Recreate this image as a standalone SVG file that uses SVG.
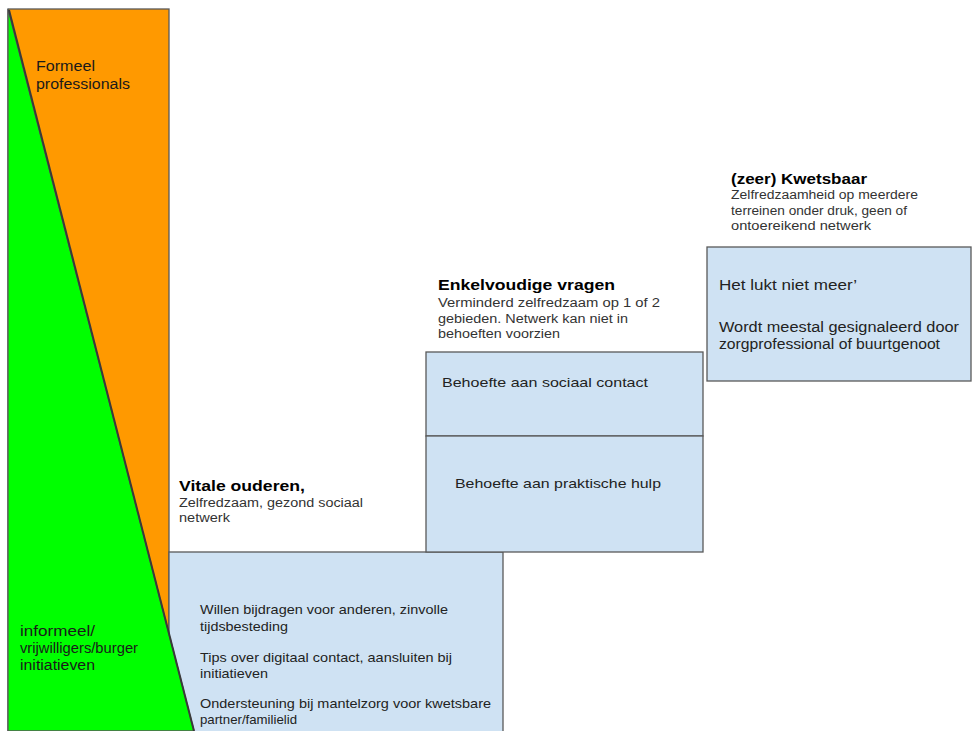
<svg xmlns="http://www.w3.org/2000/svg" width="972" height="731" viewBox="0 0 972 731">
<style>
text{font-family:"Liberation Sans",Arial,sans-serif;fill:#222}
.t{font-size:15px;font-weight:bold;fill:#000}
.s{font-size:12px;fill:#333}
.b{font-size:13.5px;fill:#222}
.k{font-size:14px;fill:#222}
.side{font-size:14px;fill:#1a1a1a}
.box{fill:#cfe2f3;stroke:#595959;stroke-width:1.3}
</style>
<rect width="972" height="731" fill="#fff"/>
<g id="formeel">
<rect x="8" y="9" width="161" height="730" fill="#ff9900" stroke="#595959" stroke-width="1.3"/>
<text class="side" x="36" y="71" textLength="59" lengthAdjust="spacingAndGlyphs">Formeel</text>
<text class="side" x="36" y="89" textLength="94" lengthAdjust="spacingAndGlyphs">professionals</text>
</g>
<g id="vitale">
<rect class="box" x="169" y="552" width="334" height="190"/>
<text class="b" x="200" y="614" textLength="248" lengthAdjust="spacingAndGlyphs">Willen bijdragen voor anderen, zinvolle</text>
<text class="b" x="200" y="631" textLength="88" lengthAdjust="spacingAndGlyphs">tijdsbesteding</text>
<text class="b" x="200" y="662" textLength="252" lengthAdjust="spacingAndGlyphs">Tips over digitaal contact, aansluiten bij</text>
<text class="b" x="200" y="678" textLength="68" lengthAdjust="spacingAndGlyphs">initiatieven</text>
<text class="b" x="200" y="708" textLength="291" lengthAdjust="spacingAndGlyphs">Ondersteuning bij mantelzorg voor kwetsbare</text>
<text class="b" x="200" y="724" textLength="97" lengthAdjust="spacingAndGlyphs">partner/familielid</text>
</g>
<g id="informeel">
<polygon points="8,9 194,731 8,731" fill="#00ff00" stroke="#595959" stroke-width="1.3"/>
<line x1="9" y1="10" x2="194" y2="731" stroke="#3a3a3a" stroke-width="2"/>
<text class="side" x="20" y="636" textLength="75" lengthAdjust="spacingAndGlyphs">informeel/</text>
<text class="side" x="20" y="653" textLength="118" lengthAdjust="spacingAndGlyphs">vrijwilligers/burger</text>
<text class="side" x="20" y="670" textLength="75" lengthAdjust="spacingAndGlyphs">initiatieven</text>
</g>
<g id="vitale-header">
<text class="t" x="179" y="491" textLength="126" lengthAdjust="spacingAndGlyphs">Vitale ouderen,</text>
<text class="s" x="179" y="507" textLength="184" lengthAdjust="spacingAndGlyphs">Zelfredzaam, gezond sociaal</text>
<text class="s" x="179" y="522" textLength="51" lengthAdjust="spacingAndGlyphs">netwerk</text>
</g>
<g id="enkelvoudig">
<text class="t" x="438" y="290" textLength="177" lengthAdjust="spacingAndGlyphs">Enkelvoudige vragen</text>
<text class="s" x="438" y="307" textLength="222" lengthAdjust="spacingAndGlyphs">Verminderd zelfredzaam op 1 of 2</text>
<text class="s" x="438" y="323" textLength="190" lengthAdjust="spacingAndGlyphs">gebieden. Netwerk kan niet in</text>
<text class="s" x="438" y="338" textLength="122" lengthAdjust="spacingAndGlyphs">behoeften voorzien</text>
</g>
<g id="sociaal">
<rect class="box" x="426" y="352" width="277" height="84"/>
<text class="b" x="442" y="387" textLength="206" lengthAdjust="spacingAndGlyphs">Behoefte aan sociaal contact</text>
</g>
<g id="praktisch">
<rect class="box" x="426" y="436" width="277" height="116"/>
<text class="b" x="455" y="488" textLength="206" lengthAdjust="spacingAndGlyphs">Behoefte aan praktische hulp</text>
</g>
<g id="kwetsbaar">
<text class="t" x="731" y="184" textLength="136" lengthAdjust="spacingAndGlyphs">(zeer) Kwetsbaar</text>
<text class="s" x="731" y="199" textLength="187" lengthAdjust="spacingAndGlyphs">Zelfredzaamheid  op meerdere</text>
<text class="s" x="731" y="215" textLength="176" lengthAdjust="spacingAndGlyphs">terreinen onder druk, geen of</text>
<text class="s" x="731" y="230" textLength="140" lengthAdjust="spacingAndGlyphs">ontoereikend netwerk</text>
<rect class="box" x="707" y="247" width="264" height="134"/>
<text class="k" x="719" y="290" textLength="138" lengthAdjust="spacingAndGlyphs">Het lukt niet meer’</text>
<text class="k" x="719" y="332" textLength="240" lengthAdjust="spacingAndGlyphs">Wordt meestal gesignaleerd door</text>
<text class="k" x="719" y="349" textLength="221" lengthAdjust="spacingAndGlyphs">zorgprofessional of buurtgenoot</text>
</g>
<g id="connectors"></g>
</svg>
